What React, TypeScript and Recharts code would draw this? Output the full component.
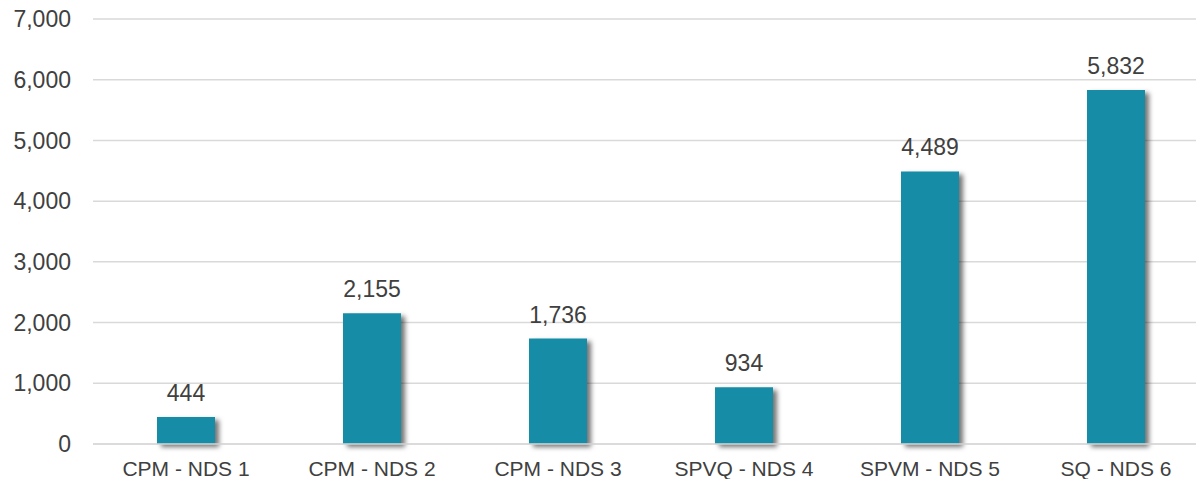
import React from "react";
import { BarChart, Bar, XAxis, YAxis, CartesianGrid, LabelList } from "recharts";

const categories = ["CPM - NDS 1", "CPM - NDS 2", "CPM - NDS 3", "SPVQ - NDS 4", "SPVM - NDS 5", "SQ - NDS 6"];
const values = [444, 2155, 1736, 934, 4489, 5832];
const yTicks = [0, 1000, 2000, 3000, 4000, 5000, 6000, 7000];

const data = categories.map((name, i) => ({ name, value: values[i] }));

const fmt = (v: number) => v.toLocaleString("en-US");

export default function App() {
  return (
    <div style={{ position: "fixed", left: 0, top: 0, width: 1196, height: 479, overflow: "hidden", background: "#fff" }}>
      <BarChart
        width={1209}
        height={479}
        data={data}
        margin={{ top: 19, right: 0, bottom: 0, left: 0 }}
        barSize={58}
        style={{ fontFamily: "'Liberation Sans', Arial, sans-serif" }}
      >
        <defs>
          <filter id="shadow" x="-20%" y="-20%" width="150%" height="150%">
            <feDropShadow dx="4" dy="3" stdDeviation="2.5" floodColor="#000" floodOpacity="0.55" />
          </filter>
        </defs>
        <CartesianGrid vertical={false} stroke="#d9d9d9" strokeWidth={1.5} />
        <XAxis
          dataKey="name"
          height={35}
          axisLine={{ stroke: "#d9d9d9", strokeWidth: 1.5 }}
          tickLine={false}
          tickMargin={11}
          tick={{ fill: "#404040", fontSize: 21 }}
          interval={0}
        />
        <YAxis
          width={93}
          domain={[0, 7000]}
          ticks={yTicks}
          axisLine={false}
          tickLine={false}
          tickMargin={16}
          tickFormatter={fmt}
          tick={{ fill: "#404040", fontSize: 23 }}
        />
        <Bar dataKey="value" fill="#178ca6" isAnimationActive={false} filter="url(#shadow)">
          <LabelList dataKey="value" position="top" offset={16} formatter={(v: any) => fmt(Number(v))} fill="#404040" fontSize={23} />
        </Bar>
      </BarChart>
    </div>
  );
}
